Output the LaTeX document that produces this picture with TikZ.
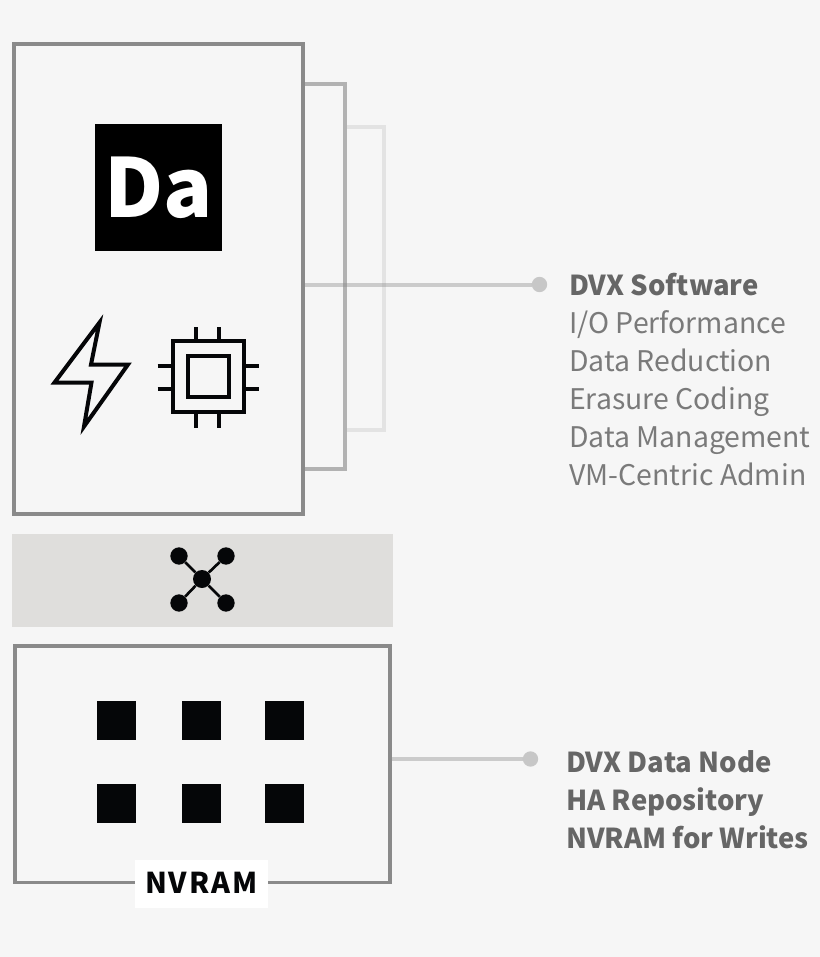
\documentclass[tikz,border=0pt]{standalone}
\usepackage{fontspec}
\setmainfont{Noto Sans CJK SC}
\definecolor{pagebg}{HTML}{F6F6F6}
\definecolor{bandgray}{HTML}{DFDEDC}
\definecolor{iconblack}{HTML}{050608}
\definecolor{framegray}{HTML}{8A8A8A}
\definecolor{headgray}{HTML}{666666}
\definecolor{bodygray}{HTML}{7A7A7A}
\begin{document}
\begin{tikzpicture}[x=0.75pt, y=-0.75pt, line join=miter]
    % Define styles
    \tikzset{
        framebox/.style={draw=framegray, line width=2.9pt, inner sep=0pt, outer sep=0pt, anchor=north west},
        iconline/.style={iconblack, line width=3pt},
        ramchip/.style={fill=iconblack, inner sep=0pt, outer sep=0pt, minimum size=29.5pt, anchor=north west},
        hub/.style={circle, fill=iconblack, inner sep=0pt, minimum size=13.5pt},
        leaf/.style={circle, fill=iconblack, inner sep=0pt, minimum size=13pt},
        leader/.style={black!45, line width=3pt, opacity=0.4},
        dotend/.style={circle, fill=black!22, inner sep=0pt, minimum size=11.5pt},
        caption/.style={anchor=north west, align=left, inner sep=0pt, font=\fontsize{21.3}{28.5}\selectfont}
    }

    % Background
    \fill[pagebg] (0,0) rectangle (820,957);
    \useasboundingbox (0,0) rectangle (820,957);

    % Stacked frames behind the main box
    \draw[black!11, line width=2.9pt] (345,127) -- (384,127) -- (384,430) -- (345,430);
    \draw[black!30, line width=2.9pt] (303,84) -- (345,84) -- (345,469) -- (303,469);

    % Main box
    \node[framebox, minimum width=217pt, minimum height=352.5pt] (mainbox) at (13.7,44) {};

    % Logo
    \node[fill=black, text=white, inner sep=0pt, outer sep=0pt, minimum size=95.2pt, anchor=north west,
        font=\fontsize{61}{61}\bfseries\selectfont] (logo) at (95,124) {Da};

    % Bolt
    \draw[iconline] (99.5,322.5) -- (54.5,382.5) -- (91.5,382.5) -- (84,426.5) -- (128,364.5) -- (91,364.5) -- cycle;

    % Chip
    \draw[iconline] (172.7,341.3) rectangle (243.7,412.3);
    \draw[iconline] (187.7,356.3) rectangle (228.7,397.3);
    \foreach \pos in {196.3,219.3} {
        \draw[iconline] (\pos,327) -- (\pos,341);
        \draw[iconline] (\pos,412.5) -- (\pos,428);
    }
    \foreach \pos in {366,389} {
        \draw[iconline] (157.5,\pos) -- (172.5,\pos);
        \draw[iconline] (244,\pos) -- (259,\pos);
    }

    % Network band
    \node[fill=bandgray, inner sep=0pt, outer sep=0pt, minimum width=285.75pt, minimum height=69.75pt, anchor=north west] (band) at (12,533.5) {};
    \node[hub] (hubc) at (202,579) {};
    \node[leaf] (hubnw) at (179,556) {};
    \node[leaf] (hubne) at (226,556) {};
    \node[leaf] (hubsw) at (179,603) {};
    \node[leaf] (hubse) at (226,603) {};
    \foreach \corner in {hubnw,hubne,hubsw,hubse}
        \draw[iconblack, line width=2pt] (hubc) -- (\corner);

    % Data node box
    \node[framebox, minimum width=281pt, minimum height=177.4pt] (databox) at (15,646) {};
    \foreach \col/\xpos in {a/97,b/182,c/265} {
        \node[ramchip] (chip\col1) at (\xpos,701) {};
        \node[ramchip] (chip\col2) at (\xpos,784) {};
    }
    \node[fill=white, inner sep=0pt, outer sep=0pt, minimum width=100pt, minimum height=36pt,
        font=\fontsize{21.5}{24}\bfseries\selectfont, text=iconblack] (nvram) at (201.3,884) {\raisebox{1.5pt}{\addfontfeature{LetterSpace=7}NVRAM}};

    % Leaders and captions
    \node[dotend] (dotsw) at (539.5,284.5) {};
    \draw[leader] (303,284.5) -- (dotsw);
    \node[dotend] (dotdn) at (530.5,759) {};
    \draw[leader] (databox.east |- dotdn) -- (dotdn);

    \node[caption, text=bodygray] (swtext) at (569,272.5) {{\fontsize{20.6}{28.5}\bfseries\selectfont\color{headgray}DVX Software}\\I/O Performance\\Data Reduction\\Erasure Coding\\Data Management\\VM-Centric Admin};
    \node[caption, text=headgray, font=\fontsize{20.6}{28.5}\bfseries\selectfont] (dntext) at (566,750) {DVX Data Node\\HA Repository\\NVRAM for Writes};
\end{tikzpicture}
\end{document}
